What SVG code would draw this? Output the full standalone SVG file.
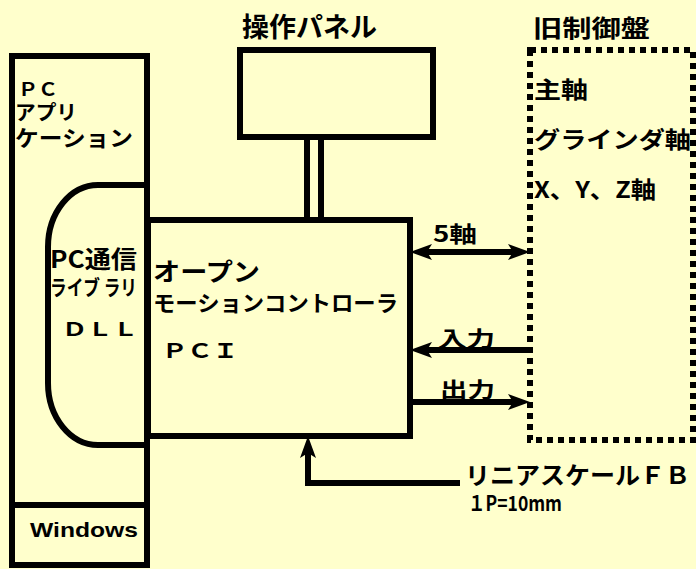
<svg xmlns="http://www.w3.org/2000/svg" width="696" height="569" viewBox="0 0 696 569">
<style>
.box{fill:none;stroke:#000;stroke-width:6}
.ln{fill:none;stroke:#000;stroke-width:6}
.t{font-family:"Noto Sans CJK JP","Liberation Sans",sans-serif;font-weight:bold;fill:#000}
.w{font-family:"Liberation Sans","Noto Sans CJK JP",sans-serif;font-weight:bold;fill:#000}
</style>
<defs>
<marker id="ah" markerUnits="userSpaceOnUse" markerWidth="24" markerHeight="20" viewBox="0 0 24 20" refX="12" refY="10" orient="auto-start-reverse">
<path d="M0,2 L22,10 L0,18 L5,10 Z" fill="#000"/>
</marker>
</defs>
<rect width="696" height="569" fill="#FFFFCC"/>

<g id="pc-app">
<rect class="box" x="12" y="56" width="135" height="509"/>
<line class="ln" x1="12" y1="505" x2="147" y2="505"/>
<text class="t" x="18" y="96" font-size="18" textLength="40" lengthAdjust="spacingAndGlyphs">ＰＣ</text>
<text class="t" x="15" y="120" font-size="20" textLength="62" lengthAdjust="spacingAndGlyphs">アプリ</text>
<text class="t" x="15" y="146" font-size="22" textLength="118" lengthAdjust="spacingAndGlyphs">ケーション</text>
</g>

<g id="windows">
<text class="w" x="30" y="537" font-size="21" textLength="108" lengthAdjust="spacingAndGlyphs">Windows</text>
</g>

<g id="dll">
<path class="ln" d="M148,185 H98 A50,62 0 0 0 48,247 V383 A50,62 0 0 0 98,445 H148" stroke-width="5"/>
<text class="t" x="50" y="268" font-size="24" textLength="87" lengthAdjust="spacingAndGlyphs">PC通信</text>
<text class="t" x="50" y="295" font-size="21" textLength="87" lengthAdjust="spacingAndGlyphs">ライブ ラリ</text>
<text class="t" x="62" y="336" font-size="19" textLength="76" lengthAdjust="spacingAndGlyphs">ＤＬＬ</text>
</g>

<g id="controller">
<rect class="box" x="148" y="220" width="262" height="216" fill="#FFFFCC"/>
<text class="t" x="153" y="281" font-size="25" textLength="107" lengthAdjust="spacingAndGlyphs">オープン</text>
<text class="t" x="153" y="311" font-size="22" textLength="245" lengthAdjust="spacingAndGlyphs">モーションコントローラ</text>
<text class="t" x="162" y="358" font-size="20" textLength="76" lengthAdjust="spacingAndGlyphs">ＰＣＩ</text>
</g>

<g id="panel">
<rect class="box" x="240" y="50" width="193" height="87"/>
<text class="t" x="242" y="37" font-size="27" textLength="135" lengthAdjust="spacingAndGlyphs">操作パネル</text>
</g>

<g id="old-control">
<rect x="530" y="50" width="163" height="390" fill="none" stroke="#000" stroke-width="6" stroke-dasharray="6 5"/>
<text class="t" x="533" y="37" font-size="24" textLength="117" lengthAdjust="spacingAndGlyphs">旧制御盤</text>
<text class="t" x="534" y="98" font-size="23" textLength="54" lengthAdjust="spacingAndGlyphs">主軸</text>
<text class="t" x="534" y="148" font-size="23" textLength="157" lengthAdjust="spacingAndGlyphs">グラインダ軸</text>
<text class="t" x="534" y="198" font-size="23" textLength="122" lengthAdjust="spacingAndGlyphs">X、Y、Z軸</text>
</g>

<g id="connectors">
<line class="ln" x1="307" y1="137" x2="307" y2="220"/>
<line class="ln" x1="321" y1="137" x2="321" y2="220"/>
<line class="ln" x1="420" y1="252" x2="520" y2="252" marker-start="url(#ah)" marker-end="url(#ah)"/>
<line class="ln" x1="530" y1="350" x2="420" y2="350" marker-end="url(#ah)"/>
<line class="ln" x1="410" y1="402" x2="520" y2="402" marker-end="url(#ah)"/>
<path class="ln" d="M460,483 H308 V446" marker-end="url(#ah)"/>
<text class="t" x="433" y="242" font-size="22" textLength="44" lengthAdjust="spacingAndGlyphs">5軸</text>
<text class="t" x="438" y="346" font-size="21" textLength="57" lengthAdjust="spacingAndGlyphs">入力</text>
<text class="t" x="440" y="397" font-size="21" textLength="55" lengthAdjust="spacingAndGlyphs">出力</text>
<text class="t" x="465" y="484" font-size="24" textLength="225" lengthAdjust="spacingAndGlyphs">リニアスケールＦＢ</text>
<text class="t" x="468" y="511" font-size="21" textLength="94" lengthAdjust="spacingAndGlyphs">１P=10mm</text>
</g>
</svg>
